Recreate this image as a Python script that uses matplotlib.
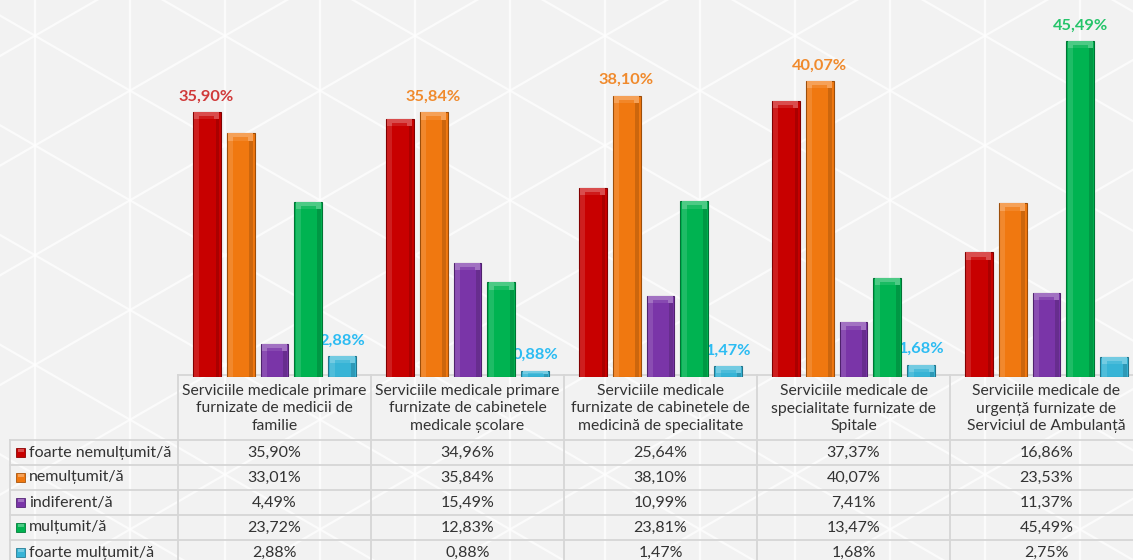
import numpy as np
import matplotlib
matplotlib.use("Agg")
import matplotlib.pyplot as plt
from matplotlib.patches import Rectangle
from matplotlib.colors import to_rgb

plt.rcParams["font.family"] = ["Lato", "DejaVu Sans"]

# --- date -------------------------------------------------------------------
categories = [
    "Serviciile medicale primare\nfurnizate de medicii de\nfamilie",
    "Serviciile medicale primare\nfurnizate de cabinetele\nmedicale școlare",
    "Serviciile medicale\nfurnizate de cabinetele de\nmedicină de specialitate",
    "Serviciile medicale de\nspecialitate furnizate de\nSpitale",
    "Serviciile medicale de\nurgență furnizate de\nServiciul de Ambulanță",
]
series_names = ["foarte nemulțumit/ă", "nemulțumit/ă", "indiferent/ă",
                "mulțumit/ă", "foarte mulțumit/ă"]
foarte_nemultumit = [35.90, 34.96, 25.64, 37.37, 16.86]
nemultumit = [33.01, 35.84, 38.10, 40.07, 23.53]
indiferent = [4.49, 15.49, 10.99, 7.41, 11.37]
multumit = [23.72, 12.83, 23.81, 13.47, 45.49]
foarte_multumit = [2.88, 0.88, 1.47, 1.68, 2.75]
values = [foarte_nemultumit, nemultumit, indiferent, multumit, foarte_multumit]

# etichete de valoare afisate deasupra barelor (serie, grup)
shown_labels = [(0, 0), (4, 0), (1, 1), (4, 1), (1, 2), (4, 2),
                (1, 3), (4, 3), (3, 4)]

bar_colors = ["#c80000", "#f07810", "#7a35a8", "#00b351", "#37b4d6"]
label_colors = ["#d03a3a", "#f08a2c", "#8a4ab8", "#25c46a", "#2cbcf2"]

BG = "#f2f2f2"
GRID = "#d6d6d6"
TEXT = "#333333"
FS = 11.5

W, H = 1133, 560
fig = plt.figure(figsize=(W / 100, H / 100), dpi=100)
fig.patch.set_facecolor(BG)

# fundal cu model triunghiular discret, in coordonate pixel
bg = fig.add_axes([0, 0, 1, 1], zorder=0)
bg.set_xlim(0, W)
bg.set_ylim(H, 0)
bg.axis("off")
step = 95
slope = np.tan(np.radians(30))
for xv in np.arange(35, W, step):
    bg.plot([xv, xv], [0, H], color="white", lw=1.6, alpha=0.7)
xs = np.array([0, W])
for c in np.arange(-1500, 1500, step / np.cos(np.radians(30))):
    bg.plot(xs, c + slope * (xs - 35), color="white", lw=1.6, alpha=0.7)
    bg.plot(xs, c - slope * (xs - 35), color="white", lw=1.6, alpha=0.7)

# --- bare -------------------------------------------------------------------
x0_px, col_w, base_px = 178, 193, 377
ax = fig.add_axes([x0_px / W, 1 - base_px / H, 5 * col_w / W, base_px / H],
                  zorder=2)
ax.set_xlim(-0.5, 4.5)
ax.set_ylim(0, 51.04)
ax.axis("off")
ax.patch.set_alpha(0)

x = np.arange(len(categories))
offsets = (np.arange(5) - 2) * 0.176
bw = 0.145


def shade(c, f):
    r = np.array(to_rgb(c))
    return tuple(np.clip(r + (1 - r) * f, 0, 1)) if f > 0 else tuple(r * (1 + f))


for i, vals in enumerate(values):
    xb = x + offsets[i]
    col = bar_colors[i]
    ax.bar(xb, vals, width=bw, color=col, edgecolor=shade(col, -0.35),
           linewidth=0.8, zorder=3)
    # lumina pe stanga, umbra pe dreapta
    ax.bar(xb - bw * 0.36, vals, width=bw * 0.16, color="white", alpha=0.12,
           linewidth=0, zorder=4)
    ax.bar(xb + bw * 0.38, vals, width=bw * 0.12, color="black", alpha=0.15,
           linewidth=0, zorder=4)
    # tesitura de sus
    cap = np.minimum(1.0, np.array(vals) * 0.6)
    ax.bar(xb, cap, bottom=np.array(vals) - cap, width=bw * 0.92,
           color=shade(col, 0.3), linewidth=0, zorder=5)
    ax.bar(xb, cap * 0.45, bottom=np.array(vals) - cap, width=bw * 0.55,
           color=shade(col, 0.1), linewidth=0, zorder=5)

for s, g in shown_labels:
    v = values[s][g]
    ax.annotate(f"{v:.2f}%".replace(".", ","), (x[g] + offsets[s], v),
                xytext=(0, 6), textcoords="offset points", ha="center",
                va="bottom", fontsize=11.8, fontweight="bold",
                color=label_colors[s], zorder=2)

# --- tabel de date ------------------------------------------------------------
tb = fig.add_axes([0, 0, 1, 1], zorder=1)
tb.set_xlim(0, W)
tb.set_ylim(H, 0)
tb.axis("off")
tb.patch.set_alpha(0)

head_top, head_bot, row_h = 375, 440, 25
left = 10
col_edges = [x0_px + k * col_w for k in range(6)]
n_rows = len(series_names)
bottom = head_bot + n_rows * row_h

lw = 1.3
tb.plot([x0_px, W + 20], [head_top, head_top], color=GRID, lw=lw)
for yy in [head_bot + k * row_h for k in range(n_rows + 1)]:
    tb.plot([left, W + 20], [yy, yy], color=GRID, lw=lw)
for xe in col_edges:
    tb.plot([xe, xe], [head_top, bottom], color=GRID, lw=lw)
tb.plot([left, left], [head_bot, bottom], color=GRID, lw=lw)

for k, cat in enumerate(categories):
    cx = col_edges[k] + col_w / 2
    tb.text(cx, (head_top + head_bot) / 2 + 1, cat, ha="center", va="center",
            fontsize=11.3, color=TEXT, linespacing=1.3)
    for r in range(n_rows):
        cy = head_bot + r * row_h + row_h / 2
        tb.text(cx, cy, f"{values[r][k]:.2f}%".replace(".", ","),
                ha="center", va="center", fontsize=FS, color=TEXT)

for r, name in enumerate(series_names):
    cy = head_bot + r * row_h + row_h / 2
    col = bar_colors[r]
    tb.add_patch(Rectangle((16, cy - 4.5), 9, 9, facecolor=col,
                           edgecolor=shade(col, -0.3), lw=0.6))
    tb.add_patch(Rectangle((17.5, cy - 3.5), 6, 2.5, facecolor=shade(col, 0.3),
                           lw=0))
    tb.text(29, cy, name, ha="left", va="center", fontsize=FS, color=TEXT)

fig.savefig("out.png", dpi=100, facecolor=BG)
